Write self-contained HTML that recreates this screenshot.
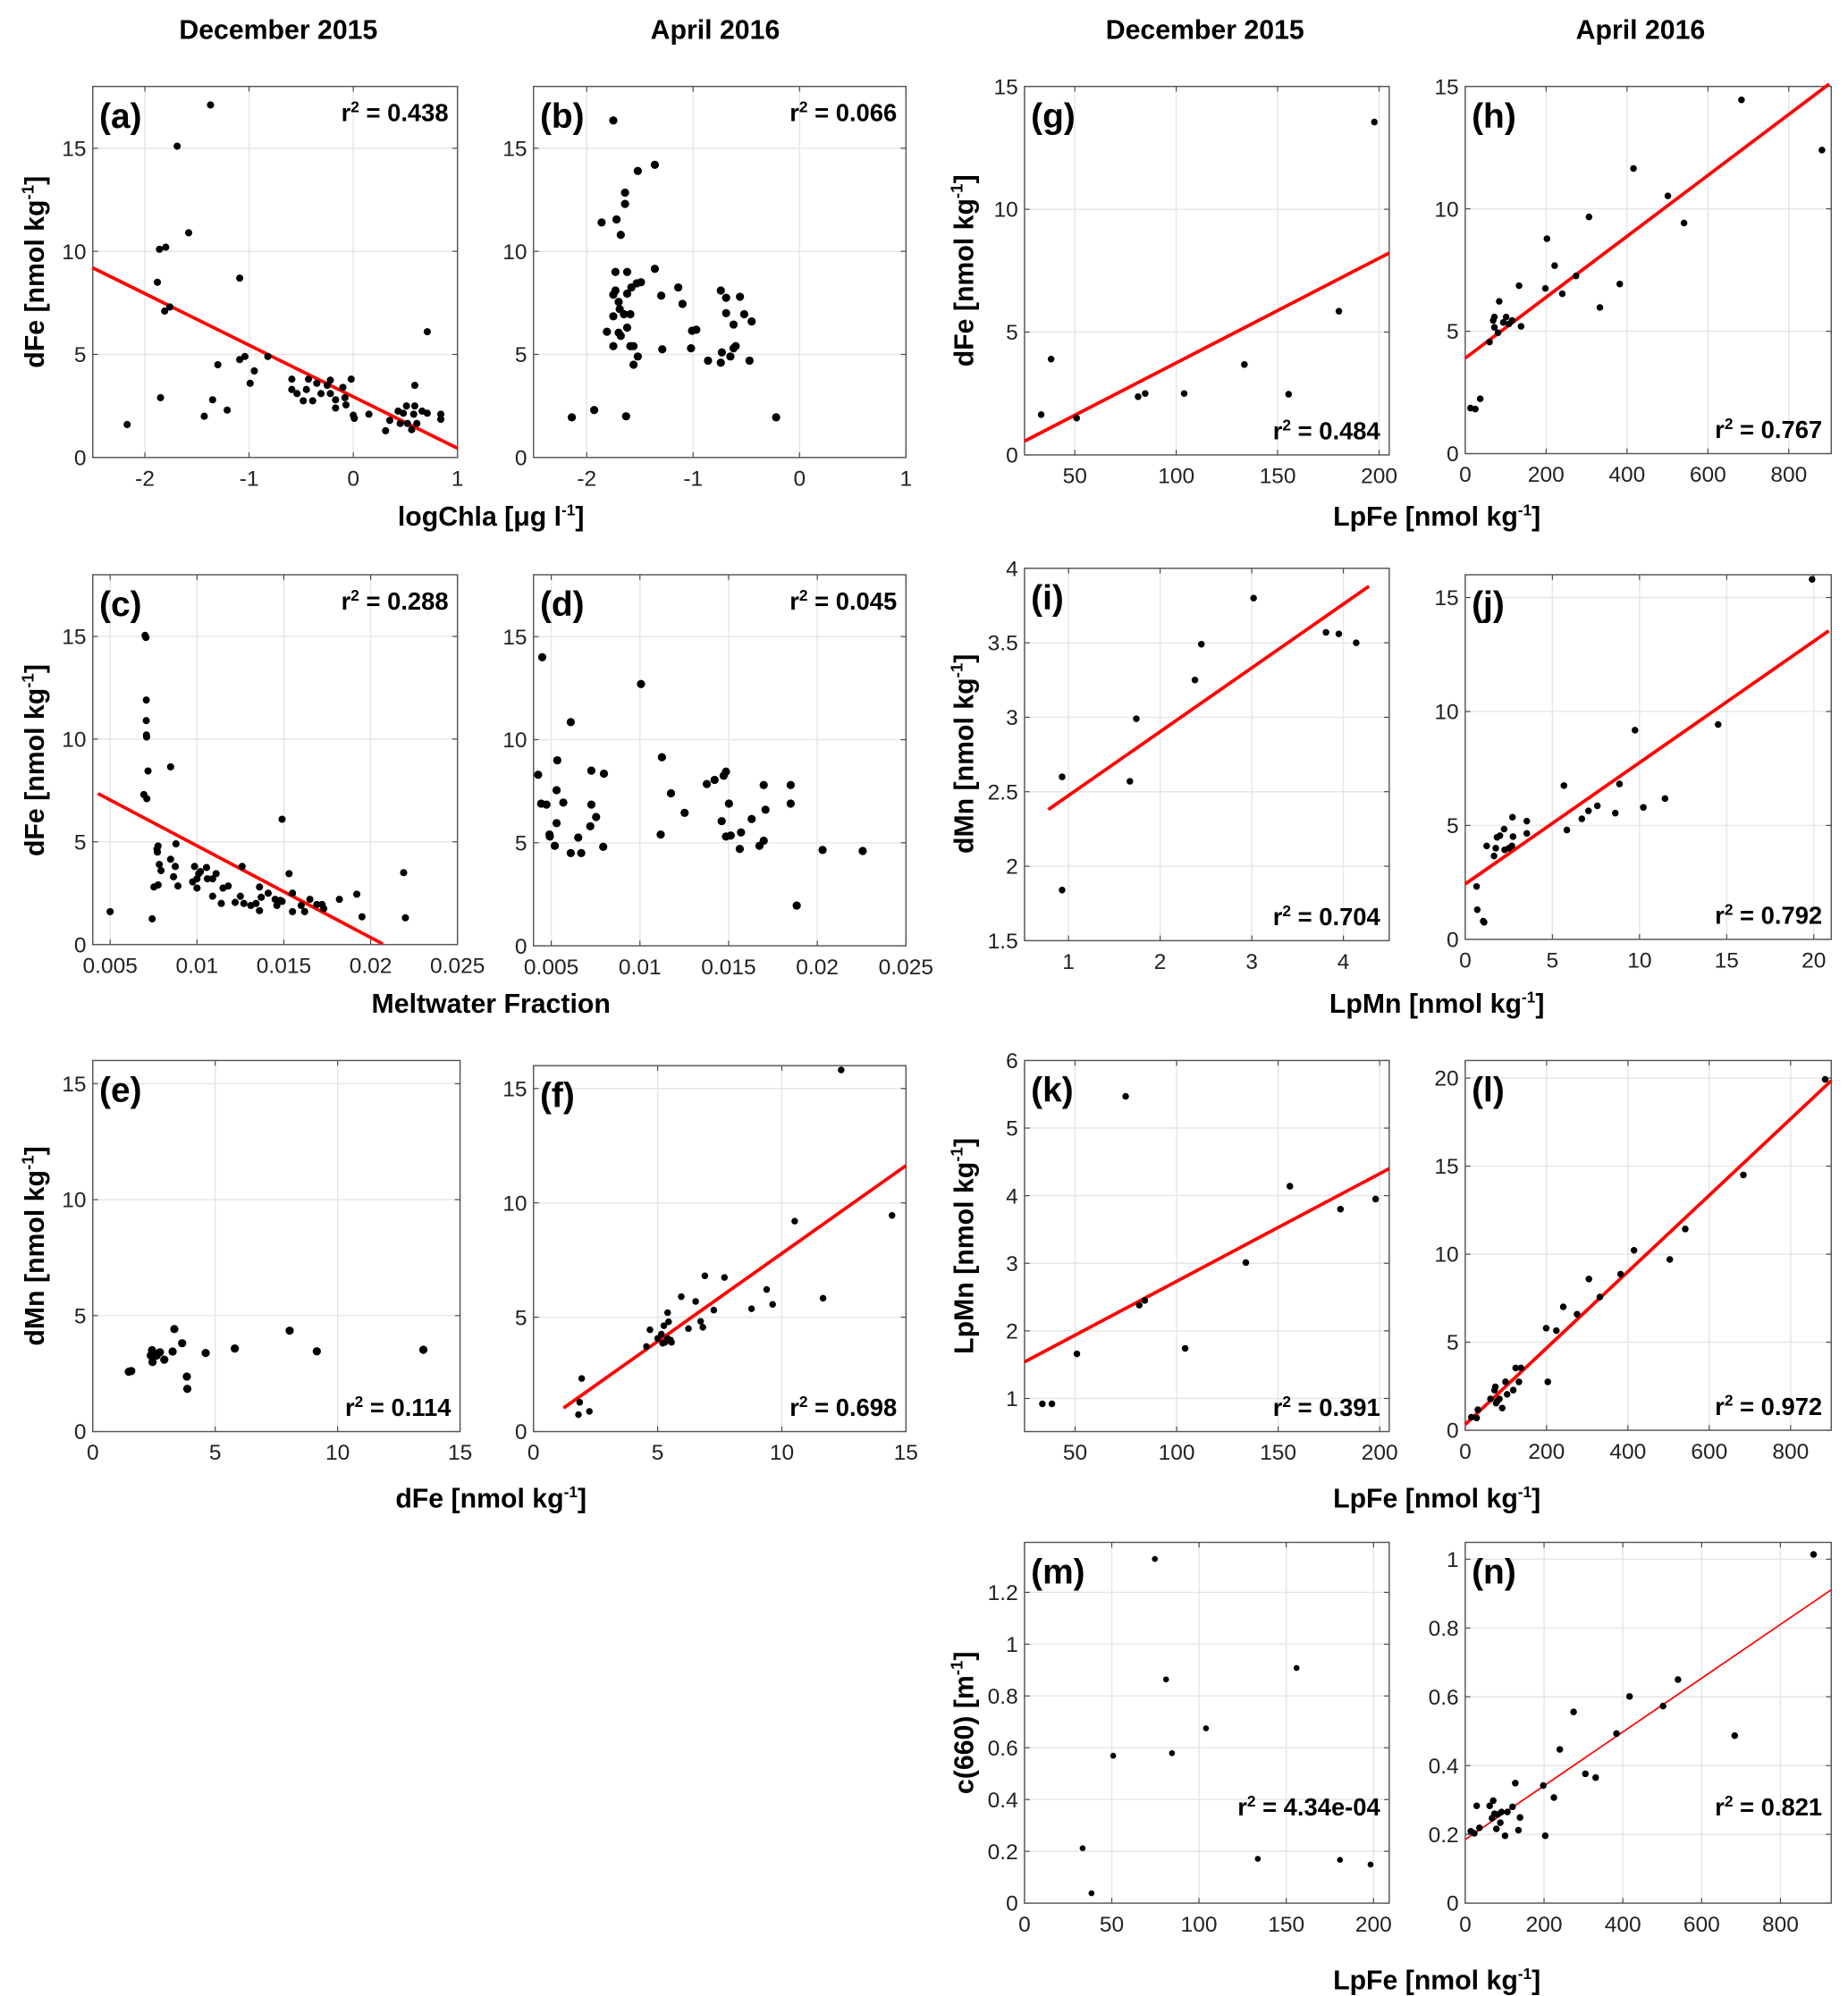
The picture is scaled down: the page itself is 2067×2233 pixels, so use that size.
<!DOCTYPE html>
<html><head><meta charset="utf-8">
<style>
html,body{margin:0;padding:0;background:#fff;}
svg{display:block;}
.tk{font-family:"Liberation Sans Narrow","Liberation Sans",sans-serif;font-size:17px;fill:#222;}
.ttl{font-family:"Liberation Sans Narrow","Liberation Sans",sans-serif;font-size:21px;font-weight:bold;fill:#000;}
.yl{font-family:"Liberation Sans",sans-serif;font-size:21px;font-weight:bold;fill:#000;}
.pl{font-family:"Liberation Sans Narrow","Liberation Sans",sans-serif;font-size:27px;font-weight:bold;fill:#000;}
.r2{font-family:"Liberation Sans Narrow","Liberation Sans",sans-serif;font-size:19px;font-weight:bold;fill:#000;}
</style></head>
<body>
<svg id="fig" width="2067" height="2233" viewBox="0 0 1434 1549" xmlns="http://www.w3.org/2000/svg">
<text class="ttl" x="216" y="30" text-anchor="middle">December 2015</text>
<text class="ttl" x="555" y="30" text-anchor="middle">April 2016</text>
<text class="ttl" x="935" y="30" text-anchor="middle">December 2015</text>
<text class="ttl" x="1273" y="30" text-anchor="middle">April 2016</text>

<text class="ttl" x="381" y="408" text-anchor="middle">logChla [μg l<tspan dy="-8" font-size="12">-1</tspan><tspan dy="8">]</tspan></text>
<text class="ttl" x="381" y="786" text-anchor="middle">Meltwater Fraction</text>
<text class="ttl" x="381" y="1170" text-anchor="middle">dFe [nmol kg<tspan dy="-8" font-size="12">-1</tspan><tspan dy="8">]</tspan></text>
<text class="ttl" x="1115" y="408" text-anchor="middle">LpFe [nmol kg<tspan dy="-8" font-size="12">-1</tspan><tspan dy="8">]</tspan></text>
<text class="ttl" x="1115" y="786" text-anchor="middle">LpMn [nmol kg<tspan dy="-8" font-size="12">-1</tspan><tspan dy="8">]</tspan></text>
<text class="ttl" x="1115" y="1170" text-anchor="middle">LpFe [nmol kg<tspan dy="-8" font-size="12">-1</tspan><tspan dy="8">]</tspan></text>
<text class="ttl" x="1115" y="1544" text-anchor="middle">LpFe [nmol kg<tspan dy="-8" font-size="12">-1</tspan><tspan dy="8">]</tspan></text>

<text class="yl" transform="translate(34,211) rotate(-90)" text-anchor="middle">dFe [nmol kg<tspan dy="-8" font-size="13">-1</tspan><tspan dy="8">]</tspan></text>
<text class="yl" transform="translate(34,590) rotate(-90)" text-anchor="middle">dFe [nmol kg<tspan dy="-8" font-size="13">-1</tspan><tspan dy="8">]</tspan></text>
<text class="yl" transform="translate(34,967) rotate(-90)" text-anchor="middle">dMn [nmol kg<tspan dy="-8" font-size="13">-1</tspan><tspan dy="8">]</tspan></text>
<text class="yl" transform="translate(755,210) rotate(-90)" text-anchor="middle">dFe [nmol kg<tspan dy="-8" font-size="13">-1</tspan><tspan dy="8">]</tspan></text>
<text class="yl" transform="translate(755,585) rotate(-90)" text-anchor="middle">dMn [nmol kg<tspan dy="-8" font-size="13">-1</tspan><tspan dy="8">]</tspan></text>
<text class="yl" transform="translate(755,967) rotate(-90)" text-anchor="middle">LpMn [nmol kg<tspan dy="-8" font-size="13">-1</tspan><tspan dy="8">]</tspan></text>
<text class="yl" transform="translate(755,1337) rotate(-90)" text-anchor="middle">c(660) [m<tspan dy="-8" font-size="13">-1</tspan><tspan dy="8">]</tspan></text>
</svg>
<script>
// ---- data arrays ----
const aX=[-2.17,-1.37,-1.69,-1.58,-1.86,-1.8,-1.88,-1.76,-1.81,-1.85,-1.09,-1.3,-1.35,-1.43,-1.21,-1.09,-1.04,-0.95,-0.99,-0.82,-0.59,-0.59,-0.54,-0.48,-0.43,-0.45,-0.39,-0.35,-0.31,-0.25,-0.22,-0.22,-0.17,-0.17,-0.1,-0.08,-0.07,-0.02,0,0.01,0.15,0.31,0.35,0.43,0.45,0.48,0.52,0.51,0.58,0.59,0.56,0.59,0.61,0.66,0.71,0.71,0.84,0.84];
const aY=[1.6,17.1,15.1,10.9,10.1,10.2,8.5,7.3,7.1,2.9,8.7,4.5,2.8,2.0,2.3,4.75,4.9,4.2,3.6,4.9,3.8,3.3,3.1,2.75,3.8,3.3,2.75,3.6,3.1,3.5,3.75,3.1,2.8,2.4,3.4,2.9,2.55,3.8,2.05,1.9,2.1,1.3,1.8,2.25,1.65,2.15,1.65,2.5,2.1,2.5,1.35,3.5,1.65,2.25,6.1,2.15,2.1,1.85];
const aFitX=[-2.5,1.0], aFitY=[9.2,0.45];
const bX=[-2.14,-1.93,-1.63,-0.22,-1.75,-1.52,-1.36,-1.64,-1.64,-1.86,-1.72,-1.68,-1.73,-1.62,-1.36,-1.75,-1.73,-1.58,-1.53,-1.49,-1.62,-1.7,-1.69,-1.75,-1.65,-1.59,-1.62,-1.81,-1.7,-1.68,-1.75,-1.59,-1.56,-1.52,-1.56,-1.3,-1.14,-1.1,-1.29,-1.01,-0.97,-1.02,-0.86,-0.74,-0.69,-0.56,-0.69,-0.52,-0.62,-0.45,-0.73,-0.74,-0.65,-0.6,-0.62,-0.47];
const bY=[1.95,2.3,2.0,1.95,16.35,13.9,14.2,12.85,12.3,11.4,11.55,10.8,9.0,9.0,9.15,7.9,8.1,8.25,8.45,8.5,7.95,7.55,7.2,6.85,6.95,6.95,6.3,6.1,6.05,5.9,5.4,5.4,5.4,4.9,4.5,7.85,8.25,7.45,5.25,6.15,6.2,5.3,4.7,8.1,7.75,7.8,7.0,6.95,6.45,6.6,5.1,4.6,4.9,5.4,5.3,4.7];
const cX=[0.005,0.00701,0.00706,0.00708,0.00708,0.00709,0.0071,0.00718,0.00694,0.00711,0.00848,0.00742,0.00752,0.00776,0.0077,0.00776,0.00772,0.00783,0.00793,0.00848,0.00879,0.00875,0.00865,0.0089,0.00975,0.00986,0.01,0.01,0.0101,0.0102,0.01055,0.0106,0.0109,0.0111,0.0109,0.0114,0.0115,0.0118,0.0122,0.0125,0.0126,0.0127,0.0131,0.0134,0.0136,0.0136,0.0137,0.0141,0.0145,0.0146,0.0148,0.0149,0.0149,0.0153,0.0155,0.0155,0.016,0.0162,0.0165,0.0169,0.0172,0.0173,0.0182,0.0192,0.0195,0.0219,0.022];
const cY=[1.6,15.05,14.95,11.9,10.9,10.2,10.1,8.45,7.3,7.1,8.65,1.25,2.8,2.9,4.65,4.8,4.5,3.9,3.6,4.15,4.9,3.8,3.3,2.85,3.05,3.8,3.2,2.75,3.45,3.55,3.75,3.2,3.2,3.45,2.35,2.0,2.75,2.85,2.05,2.35,3.8,2.0,1.9,2.0,1.65,2.8,2.3,2.5,2.2,1.9,2.15,2.1,6.1,3.45,2.5,1.6,1.9,1.6,2.2,1.95,1.95,1.75,2.2,2.45,1.35,3.5,1.3];
const cFitX=[0.0043,0.0207], cFitY=[7.35,0.03];
const dX=[0.00426,0.00449,0.00443,0.00473,0.0049,0.00492,0.0052,0.0053,0.00534,0.0053,0.00568,0.0061,0.0061,0.00652,0.00669,0.0072,0.00726,0.00726,0.00753,0.00797,0.00793,0.01006,0.01124,0.01117,0.01175,0.01252,0.01377,0.01421,0.01472,0.01485,0.01461,0.01502,0.01485,0.01512,0.0157,0.01563,0.0163,0.01674,0.01698,0.01708,0.01698,0.0185,0.0185,0.01884,0.0203,0.02256];
const dY=[8.3,14.0,6.9,6.85,5.4,5.3,4.85,7.55,9.0,5.95,6.95,10.85,4.5,5.25,4.5,5.8,8.5,6.85,6.25,8.35,4.8,12.7,9.15,5.4,7.4,6.45,7.85,8.05,8.25,8.45,6.05,6.9,5.3,5.35,5.5,4.7,6.15,4.85,5.1,6.6,7.8,7.8,6.9,1.95,4.65,4.6];
const eX=[1.47,1.57,2.37,2.42,2.44,2.61,2.74,2.92,3.26,3.33,3.65,3.84,3.86,4.61,5.8,8.04,9.15,13.5];
const eY=[2.58,2.61,3.28,3.51,3.0,3.28,3.42,3.1,3.45,4.42,3.81,2.37,1.84,3.39,3.58,4.35,3.46,3.53];
const fX=[1.94,1.86,1.81,2.25,4.55,4.69,5.0,5.15,5.25,5.2,5.3,5.4,5.4,5.44,5.52,5.56,6.24,5.95,6.53,6.73,6.82,6.9,7.26,7.69,8.78,9.39,9.63,10.52,11.66,12.39,14.44];
const fY=[2.32,1.28,0.74,0.88,3.72,4.45,4.07,4.26,4.63,3.86,3.9,4.07,5.2,4.8,4.0,3.9,4.5,5.9,5.69,4.82,4.56,6.81,5.31,6.74,5.37,6.21,5.56,9.2,5.83,15.81,9.45];
const fFitX=[1.21,15], fFitY=[1.03,11.63];
const gX=[33.4,38.3,50.9,81.2,84.7,103.9,133.6,155.4,180.2,197.7];
const gY=[1.64,3.9,1.5,2.37,2.5,2.5,3.68,2.47,5.85,13.55];
const gFitX=[25.2,205], gFitY=[0.56,8.22];
const hX=[13,25,37,60,69,72,72,81,84,94,101,108,116,138,133,198,202,221,240,274,306,333,382,416,501,541,683,882];
const hY=[1.86,1.82,2.24,4.56,5.44,5.58,5.16,4.94,6.22,5.36,5.58,5.3,5.44,5.2,6.86,6.75,8.78,7.68,6.53,7.26,9.67,5.97,6.93,11.65,10.53,9.42,14.45,12.4];
const hFitX=[0,900], hFitY=[3.9,15.1];
const iX=[0.93,0.93,1.67,1.74,2.38,2.45,3.02,3.81,3.95,4.14];
const iY=[2.6,1.84,2.57,2.99,3.25,3.49,3.8,3.57,3.56,3.5];
const iFitX=[0.78,4.28], iFitY=[2.38,3.88];
const jX=[0.65,0.69,1.03,1.08,1.23,1.65,1.75,1.82,1.99,2.23,2.26,2.5,2.71,2.74,2.68,3.53,3.53,5.66,5.83,6.69,7.07,7.58,8.61,8.85,9.74,10.22,11.46,14.51,19.9];
const jY=[2.32,1.3,0.8,0.75,4.1,3.66,4.0,4.48,4.55,4.84,3.93,4.0,5.36,4.51,4.1,5.19,4.65,6.75,4.8,5.29,5.64,5.86,5.54,6.82,9.18,5.79,6.18,9.43,15.8];
const jFitX=[0,20.86], jFitY=[2.43,13.54];
const kX=[33.9,38.6,50.9,74.9,81.6,84.3,104.2,134.1,155.8,180.7,198];
const kY=[0.92,0.92,1.66,5.47,2.38,2.45,1.74,3.01,4.14,3.8,3.95];
const kFitX=[25.1,204.7], kFitY=[1.54,4.4];
const lX=[15,28,31,62,74,72,78,84,76,91,99,103,118,124,132,137,199,203,224,241,275,304,331,382,415,503,541,684,885];
const lY=[0.74,0.7,1.17,1.78,2.47,2.28,1.63,1.78,1.54,1.26,2.75,2.04,2.28,3.54,2.75,3.54,5.8,2.75,5.66,7.01,6.59,8.59,7.57,8.87,10.22,9.7,11.43,14.5,19.93];
const lFitX=[0,900], lFitY=[0.33,19.85];
const mX=[33.3,38.4,50.8,74.7,81.1,84.5,104,133.7,155.9,180.8,198.3];
const mY=[0.212,0.038,0.569,1.329,0.864,0.579,0.675,0.171,0.908,0.167,0.149];
const nX=[14,23,29,36,62,71,68,74,79,82,89,92,101,107,120,127,135,139,198,203,225,240,275,305,331,384,417,502,540,684,884];
const nY=[0.209,0.203,0.283,0.219,0.283,0.298,0.247,0.26,0.216,0.258,0.234,0.265,0.196,0.265,0.28,0.349,0.212,0.249,0.342,0.196,0.307,0.447,0.556,0.376,0.365,0.493,0.601,0.573,0.65,0.487,1.014];
const nFitX=[0,929], nFitY=[0.185,0.911];
// tick label arrays
const ticksLogChla=[-2,-1,0,1], ticksDFe18=[0,5,10,15];
const ticksMelt=[0.005,0.01,0.015,0.02,0.025], ticksMeltLbl=['0.005','0.01','0.015','0.02','0.025'];
const ticks0to15=[0,5,10,15], ticksLpFeDec=[50,100,150,200], ticksLpFeApr=[0,200,400,600,800];
const ticksLpMnDec=[1,2,3,4], ticksDMnDec=[1.5,2,2.5,3,3.5,4], ticksLpMnApr=[0,5,10,15,20];
const ticksK=[1,2,3,4,5,6], ticksL=[0,5,10,15,20], ticksMX=[0,50,100,150,200];
const ticksMY=[0,0.2,0.4,0.6,0.8,1,1.2], ticksNY=[0,0.2,0.4,0.6,0.8,1];

const NS='http://www.w3.org/2000/svg';
const svg=document.getElementById('fig');
function mk(tag,attrs,parent){const e=document.createElementNS(NS,tag);for(const k in attrs)e.setAttribute(k,attrs[k]);(parent||svg).appendChild(e);return e;}

const panels=[
 {id:'a',box:[72,67,355,355],xr:[-2.5,1],yr:[0,18],xt:ticksLogChla,yt:ticksDFe18,x:aX,y:aY,fx:aFitX,fy:aFitY,r2:'0.438',r2pos:'top',rad:2.8},
 {id:'b',box:[414,67,703,355],xr:[-2.5,1],yr:[0,18],xt:ticksLogChla,yt:ticksDFe18,x:bX,y:bY,r2:'0.066',r2pos:'top',rad:3.2},
 {id:'c',box:[72,446,355,733],xr:[0.004,0.025],yr:[0,18],xt:ticksMelt,xl:ticksMeltLbl,yt:ticksDFe18,x:cX,y:cY,fx:cFitX,fy:cFitY,r2:'0.288',r2pos:'top',rad:2.8},
 {id:'d',box:[414,446,703,734],xr:[0.004,0.025],yr:[0,18],xt:ticksMelt,xl:ticksMeltLbl,yt:ticksDFe18,x:dX,y:dY,r2:'0.045',r2pos:'top',rad:3.2},
 {id:'e',box:[72,823,357,1111],xr:[0,15],yr:[0,16],xt:ticks0to15,yt:ticks0to15,x:eX,y:eY,r2:'0.114',r2pos:'bot',rad:3.2},
 {id:'f',box:[414,827,703,1111],xr:[0,15],yr:[0,16],xt:ticks0to15,yt:ticks0to15,x:fX,y:fY,fx:fFitX,fy:fFitY,r2:'0.698',r2pos:'bot',rad:2.6},
 {id:'g',box:[795,67,1078,353],xr:[25.2,205],yr:[0,15],xt:ticksLpFeDec,yt:ticks0to15,x:gX,y:gY,fx:gFitX,fy:gFitY,r2:'0.484',r2pos:'bot',rad:2.6},
 {id:'h',box:[1137,67,1421,352],xr:[0,905],yr:[0,15],xt:ticksLpFeApr,yt:ticks0to15,x:hX,y:hY,fx:hFitX,fy:hFitY,r2:'0.767',r2pos:'bot',rad:2.6},
 {id:'i',box:[795,441,1078,730],xr:[0.52,4.5],yr:[1.5,4],xt:ticksLpMnDec,yt:ticksDMnDec,x:iX,y:iY,fx:iFitX,fy:iFitY,r2:'0.704',r2pos:'bot',rad:2.6},
 {id:'j',box:[1137,446,1421,729],xr:[0,21],yr:[0,16],xt:ticksLpMnApr,yt:ticks0to15,x:jX,y:jY,fx:jFitX,fy:jFitY,r2:'0.792',r2pos:'bot',rad:2.6},
 {id:'k',box:[795,823,1078,1111],xr:[25.1,204.7],yr:[0.51,6],xt:ticksLpFeDec,yt:ticksK,x:kX,y:kY,fx:kFitX,fy:kFitY,r2:'0.391',r2pos:'bot',rad:2.6},
 {id:'l',box:[1137,823,1421,1110],xr:[0,900],yr:[0,21],xt:ticksLpFeApr,yt:ticksL,x:lX,y:lY,fx:lFitX,fy:lFitY,r2:'0.972',r2pos:'bot',rad:2.6},
 {id:'m',box:[795,1197,1078,1477],xr:[0,209],yr:[0,1.393],xt:ticksMX,yt:ticksMY,x:mX,y:mY,r2:'4.34e-04',r2pos:'mid',rad:2.3},
 {id:'n',box:[1137,1197,1421,1477],xr:[0,929],yr:[0,1.049],xt:ticksLpFeApr,yt:ticksNY,x:nX,y:nY,fx:nFitX,fy:nFitY,r2:'0.821',r2pos:'mid',rad:2.6,thin:true}
];

panels.forEach(p=>{
 const [x0,y0,x1,y1]=p.box;
 const sx=v=>x0+(v-p.xr[0])/(p.xr[1]-p.xr[0])*(x1-x0);
 const sy=v=>y1-(v-p.yr[0])/(p.yr[1]-p.yr[0])*(y1-y0);
 const g=mk('g',{});
 
 
 mk('rect',{x:x0,y:y0,width:x1-x0,height:y1-y0,fill:'#fff'},g);
 p.xt.forEach((t,i)=>{
  const X=sx(t);
  if(X>x0+1&&X<x1-1){const gl=mk('line',{x1:X,x2:X,y1:y0,y2:y1,stroke:'#e6e6e6','stroke-width':1},g);
   }
  mk('line',{x1:X,x2:X,y1:y1,y2:y1-4,stroke:'#444','stroke-width':0.8},g);
  mk('line',{x1:X,x2:X,y1:y0,y2:y0+4,stroke:'#444','stroke-width':0.8},g);
  const tl=mk('text',{x:X,y:y1+22,'text-anchor':'middle',class:'tk'},g);
  tl.textContent=p.xl?p.xl[i]:String(t);
  
  
 });
 p.yt.forEach(t=>{
  const Y=sy(t);
  if(Y>y0+1&&Y<y1-1){const gl=mk('line',{x1:x0,x2:x1,y1:Y,y2:Y,stroke:'#e6e6e6','stroke-width':1},g);
   }
  mk('line',{x1:x0,x2:x0+4,y1:Y,y2:Y,stroke:'#444','stroke-width':0.8},g);
  mk('line',{x1:x1,x2:x1-4,y1:Y,y2:Y,stroke:'#444','stroke-width':0.8},g);
  const tl=mk('text',{x:x0-5,y:Y+6,'text-anchor':'end',class:'tk'},g);
  tl.textContent=String(t);
  
  
 });
 const fr=mk('rect',{x:x0,y:y0,width:x1-x0,height:y1-y0,fill:'none',stroke:'#555','stroke-width':1},g);
 
 
 if(p.fx){
  const ln=mk('line',{x1:sx(p.fx[0]),y1:sy(p.fy[0]),x2:sx(p.fx[1]),y2:sy(p.fy[1]),stroke:'#f00','stroke-width':p.thin?1.2:2.6},g);
  
  
 }
 p.x.forEach((v,i)=>{
  const c=mk('circle',{cx:sx(v),cy:sy(p.y[i]),r:p.rad,fill:'#000'},g);
  
  
 });
 const lab=mk('text',{x:x0+5,y:y0+32,class:'pl'},g);
 lab.textContent='('+p.id+')';
 
 
 let ry=p.r2pos==='top'?y0+27:(p.r2pos==='bot'?y1-12:(y0+y1)/2+72);
 const r=mk('text',{x:x1-7,y:ry,'text-anchor':'end',class:'r2'},g);
 r.innerHTML='r<tspan dy="-7" font-size="12">2</tspan><tspan dy="7"> = '+p.r2+'</tspan>';
 
 
});
</script>
</body></html>
